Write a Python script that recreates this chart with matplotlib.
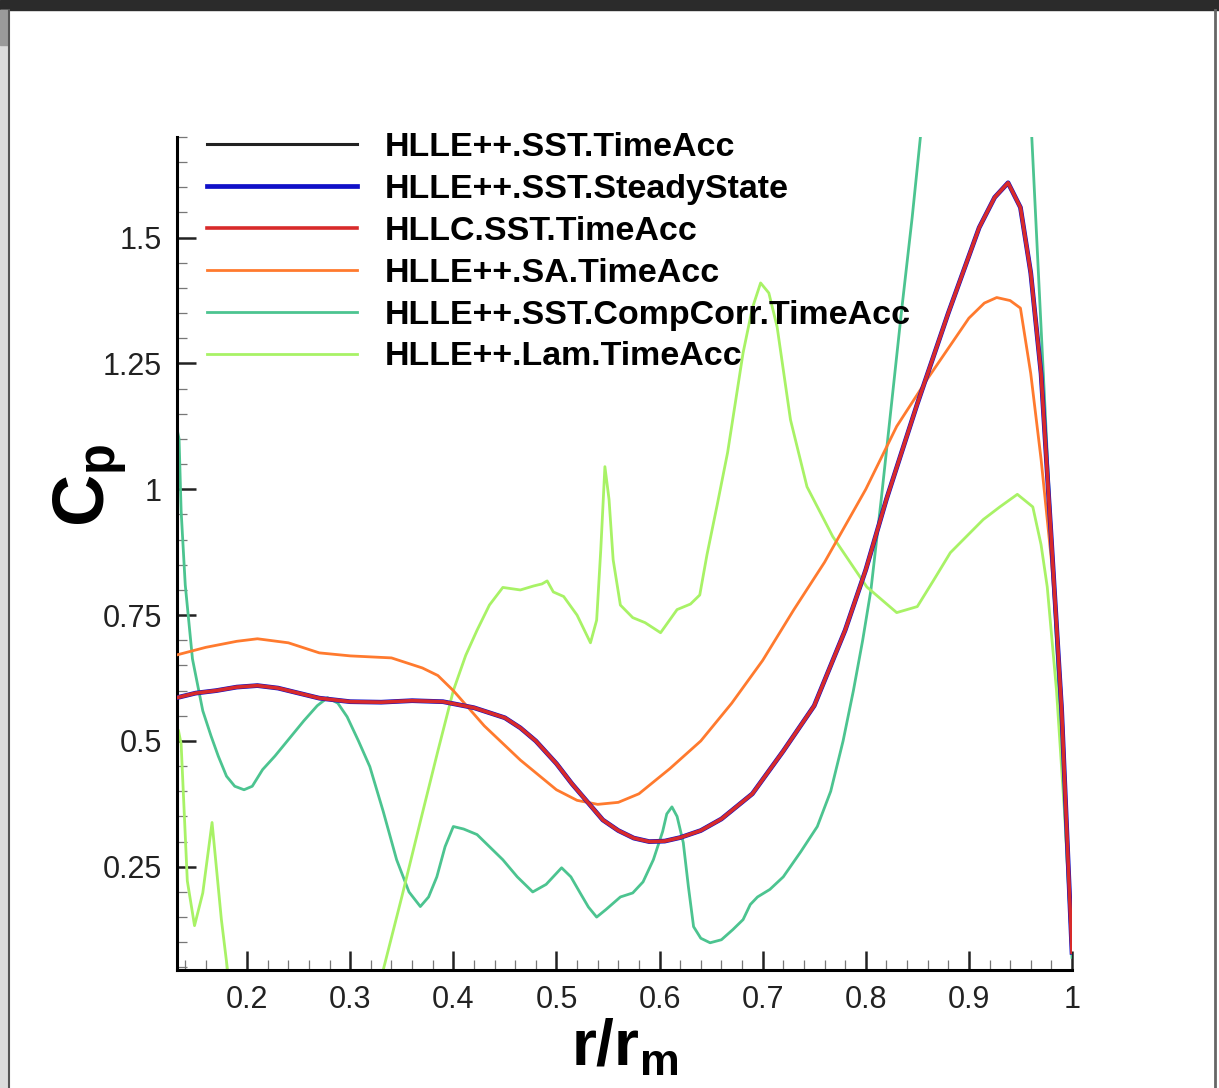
import numpy as np
import matplotlib
matplotlib.use('Agg')
import matplotlib.pyplot as plt
from matplotlib.patches import Rectangle
from matplotlib.lines import Line2D
from matplotlib.ticker import MultipleLocator, FormatStrFormatter

# data (r/rm, Cp)
sst_x = [0.132, 0.15, 0.17, 0.19, 0.21, 0.23, 0.25, 0.27, 0.30, 0.33, 0.36, 0.39, 0.42, 0.45, 0.465,
         0.48, 0.50, 0.515, 0.53, 0.545, 0.56, 0.575, 0.59, 0.605, 0.62, 0.64, 0.66, 0.69, 0.72, 0.75,
         0.78, 0.80, 0.82, 0.85, 0.88, 0.91, 0.925, 0.938, 0.95, 0.96, 0.97, 0.98, 0.99, 1.0]
sst_y = [0.586, 0.595, 0.600, 0.607, 0.610, 0.605, 0.595, 0.585, 0.578, 0.577, 0.580, 0.578, 0.566, 0.546, 0.526,
         0.500, 0.455, 0.415, 0.379, 0.343, 0.322, 0.307, 0.300, 0.301, 0.308, 0.322, 0.345, 0.395, 0.480, 0.570,
         0.720, 0.840, 0.980, 1.170, 1.350, 1.520, 1.580, 1.609, 1.560, 1.430, 1.230, 0.900, 0.560, 0.080]

sa_x = [0.132, 0.16, 0.19, 0.21, 0.24, 0.27, 0.30, 0.34, 0.37, 0.385, 0.40, 0.415, 0.43, 0.465, 0.50, 0.52, 0.54,
        0.56, 0.58, 0.61, 0.64, 0.67, 0.70, 0.73, 0.76, 0.80, 0.83, 0.86, 0.88, 0.90, 0.915, 0.927,
        0.94, 0.95, 0.96, 0.97, 0.98, 0.99, 1.0]
sa_y = [0.671, 0.686, 0.698, 0.703, 0.695, 0.675, 0.669, 0.665, 0.645, 0.630, 0.600, 0.565, 0.530, 0.462, 0.403, 0.382, 0.374,
        0.378, 0.395, 0.445, 0.50, 0.575, 0.66, 0.76, 0.855, 1.00, 1.125, 1.22, 1.28, 1.34, 1.37, 1.381,
        1.375, 1.36, 1.23, 1.06, 0.86, 0.58, 0.08]

cc_x = [0.132, 0.134, 0.136, 0.140, 0.147, 0.157, 0.165, 0.172, 0.180, 0.188, 0.197, 0.205, 0.215, 0.227,
        0.239, 0.255, 0.268, 0.278, 0.288, 0.297, 0.308, 0.319, 0.332, 0.345, 0.357, 0.368, 0.376, 0.384,
        0.392, 0.400, 0.410, 0.423, 0.435, 0.448, 0.462, 0.477, 0.490, 0.505, 0.514, 0.523, 0.531, 0.539,
        0.548, 0.562, 0.574, 0.584, 0.594, 0.603, 0.607, 0.612, 0.617, 0.623, 0.628, 0.633, 0.640, 0.649,
        0.660, 0.671, 0.681, 0.688, 0.695, 0.707, 0.720, 0.737, 0.753, 0.766, 0.778, 0.788, 0.797, 0.805,
        0.815, 0.825, 0.835, 0.845, 0.853, 0.87, 0.90, 0.93, 0.95, 0.961, 0.976, 0.988, 1.0]
cc_y = [1.12, 1.10, 0.957, 0.810, 0.663, 0.560, 0.510, 0.470, 0.430, 0.410, 0.403, 0.410, 0.443, 0.470,
        0.500, 0.540, 0.570, 0.586, 0.575, 0.548, 0.500, 0.449, 0.360, 0.264, 0.200, 0.171, 0.190, 0.230,
        0.290, 0.330, 0.325, 0.314, 0.290, 0.264, 0.230, 0.200, 0.215, 0.248, 0.230, 0.198, 0.170, 0.150,
        0.165, 0.190, 0.198, 0.220, 0.264, 0.320, 0.355, 0.369, 0.350, 0.298, 0.210, 0.131, 0.108, 0.099,
        0.105, 0.125, 0.145, 0.175, 0.190, 0.205, 0.230, 0.280, 0.330, 0.400, 0.500, 0.600, 0.700, 0.800,
        0.980, 1.170, 1.360, 1.540, 1.700, 2.000, 2.300, 2.200, 1.950, 1.700, 1.070, 0.570, 0.070]

lam_x = [0.1335, 0.136, 0.142, 0.149, 0.157, 0.166, 0.175, 0.181, 0.188, 0.23, 0.28, 0.315, 0.332, 0.350,
         0.368, 0.385, 0.400, 0.412, 0.423, 0.435, 0.448, 0.465, 0.478, 0.486, 0.491, 0.497, 0.507, 0.520,
         0.533, 0.539, 0.543, 0.547, 0.551, 0.555, 0.562, 0.574, 0.586, 0.601, 0.617, 0.630, 0.639, 0.646,
         0.656, 0.666, 0.681, 0.690, 0.698, 0.706, 0.714, 0.727, 0.743, 0.768, 0.801, 0.830, 0.850, 0.866,
         0.882, 0.914, 0.930, 0.947, 0.962, 0.970, 0.976, 0.985, 0.993, 1.0]
lam_y = [0.52, 0.494, 0.222, 0.133, 0.198, 0.338, 0.146, 0.045, -0.08, -0.35, -0.40, -0.15, 0.045, 0.190,
         0.340, 0.480, 0.600, 0.670, 0.720, 0.770, 0.805, 0.800, 0.808, 0.812, 0.818, 0.796, 0.787, 0.750,
         0.695, 0.740, 0.880, 1.045, 0.980, 0.860, 0.770, 0.745, 0.735, 0.715, 0.761, 0.772, 0.790, 0.870,
         0.970, 1.073, 1.271, 1.360, 1.410, 1.390, 1.323, 1.138, 1.005, 0.906, 0.806, 0.755, 0.767, 0.820,
         0.874, 0.940, 0.965, 0.990, 0.965, 0.890, 0.806, 0.600, 0.350, 0.080]

labels = ['HLLE++.SST.TimeAcc', 'HLLE++.SST.SteadyState', 'HLLC.SST.TimeAcc',
          'HLLE++.SA.TimeAcc', 'HLLE++.SST.CompCorr.TimeAcc', 'HLLE++.Lam.TimeAcc']

plt.rcParams['font.family'] = ['Liberation Sans', 'DejaVu Sans']

fig = plt.figure(figsize=(12.19, 10.88), dpi=100)
ax = fig.add_axes([0.1452, 0.1085, 0.7342, 0.7656])

ax.plot(sst_x, sst_y, color='#222222', lw=2.2, label=labels[0], zorder=3)
ax.plot(sst_x, sst_y, color='#1010c8', lw=3.4, label=labels[1], zorder=4)
ax.plot(sst_x, sst_y, color='#d82a2a', lw=2.6, label=labels[2], zorder=5)
ax.plot(sa_x, sa_y, color='#ff7a2e', lw=2.0, label=labels[3], zorder=3)
ax.plot(cc_x, cc_y, color='#4cc490', lw=2.0, label=labels[4], zorder=2)
ax.plot(lam_x, lam_y, color='#a8f266', lw=2.0, label=labels[5], zorder=2)

ax.set_xlim(0.132, 1.0)
ax.set_ylim(0.045, 1.70)

for s in ['top', 'right']:
    ax.spines[s].set_visible(False)
for s in ['left', 'bottom']:
    ax.spines[s].set_linewidth(2.2)

ax.xaxis.set_major_locator(MultipleLocator(0.1))
ax.xaxis.set_minor_locator(MultipleLocator(0.02))
ax.yaxis.set_major_locator(MultipleLocator(0.25))
ax.yaxis.set_minor_locator(MultipleLocator(0.05))
ax.xaxis.set_major_formatter(FormatStrFormatter('%g'))
ax.yaxis.set_major_formatter(FormatStrFormatter('%g'))
ax.tick_params(which='major', direction='in', length=14, width=1.8, labelsize=22, pad=11, colors='#222222')
ax.tick_params(which='minor', direction='in', length=7, width=0.9, color='#777777')
ax.tick_params(axis='x', which='both', top=False)
ax.tick_params(axis='y', which='both', right=False)

ax.set_xlabel('r/r$_\\mathregular{m}$', fontsize=46, fontweight='bold')
ax.xaxis.set_label_coords(0.5, -0.056)
ax.set_ylabel('C$_\\mathregular{p}$', fontsize=52, fontweight='bold')
ax.yaxis.set_label_coords(-0.052, 0.582)

leg = ax.legend(loc='upper left', bbox_to_anchor=(0.0335, 1.006), frameon=False,
                prop={'size': 24.5, 'weight': 'bold'}, handlelength=4.4, handletextpad=0.82,
                labelspacing=0.32, borderpad=0, borderaxespad=0)

# window frame around the screenshot
fig.add_artist(Rectangle((0, 1 - 10 / 1088), 1, 10 / 1088, transform=fig.transFigure,
                         color='#2b2b2b', zorder=10))
fig.add_artist(Rectangle((0, 0), 8 / 1219, 1 - 10 / 1088, transform=fig.transFigure,
                         color='#dcdcdc', zorder=10))
fig.add_artist(Rectangle((0, 1 - 45 / 1088), 8 / 1219, 35 / 1088, transform=fig.transFigure,
                         color='#9a9a9a', zorder=10))
fig.add_artist(Line2D([8.5 / 1219, 8.5 / 1219], [0, 1 - 10 / 1088], transform=fig.transFigure,
                      color='#555555', lw=1.5, zorder=11))
fig.add_artist(Line2D([1214.5 / 1219, 1214.5 / 1219], [0, 1 - 10 / 1088], transform=fig.transFigure,
                      color='#666666', lw=2.0, zorder=11))

fig.savefig('out.png', dpi=100)
